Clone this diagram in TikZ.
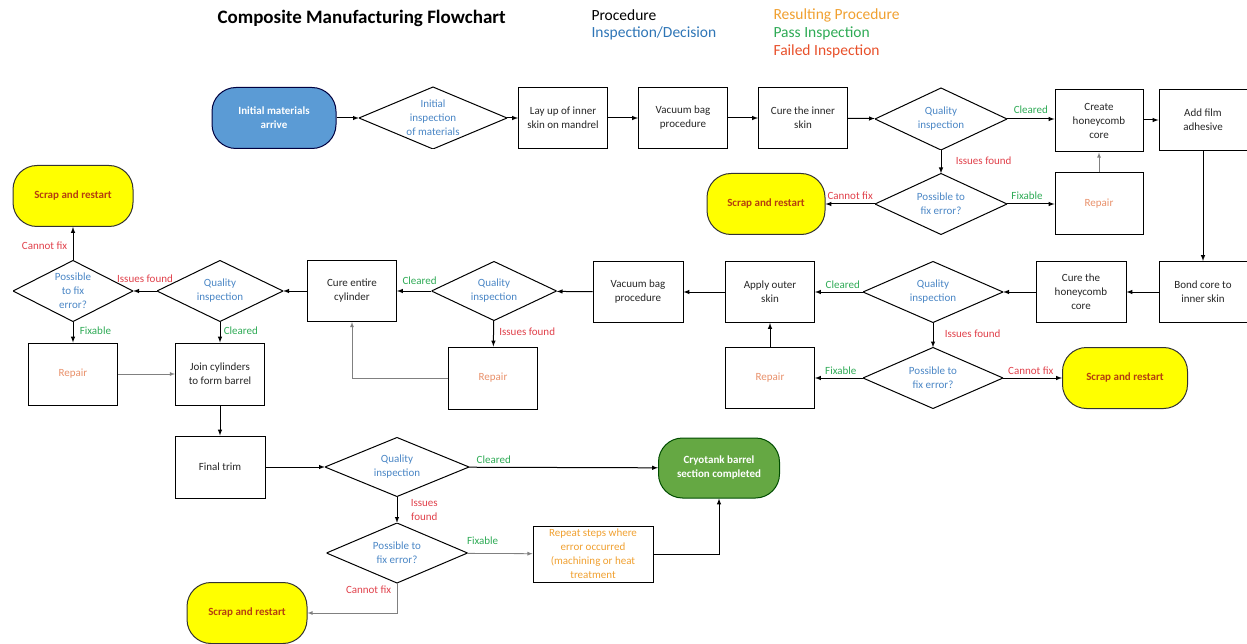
\documentclass[tikz,border=0pt]{standalone}
\usepackage{fontspec}
\setmainfont{Carlito}
\usepackage{tikz}
\usetikzlibrary{arrows}
\definecolor{inspblue}{HTML}{4A86C5}
\definecolor{legblue}{HTML}{2E75B6}
\definecolor{resorange}{HTML}{F0A030}
\definecolor{repairorange}{HTML}{E8906A}
\definecolor{passgreen}{HTML}{2EAA55}
\definecolor{failred}{HTML}{E0404A}
\definecolor{legred}{HTML}{E8502A}
\definecolor{scrapyellow}{HTML}{FFFF00}
\definecolor{scraptext}{HTML}{B5400F}
\definecolor{startblue}{HTML}{5B9BD5}
\definecolor{donegreen}{HTML}{65A843}
\newcommand{\nodefont}{\fontsize{11}{14}\selectfont}

\tikzset{
  proc/.style={rectangle, draw, line width=1pt, minimum width=89pt, minimum height=61pt,
    align=center, text=black!85, font=\nodefont, inner sep=1pt},
  repair/.style={proc, text=repairorange},
  decision/.style={rectangle, minimum width=128pt, minimum height=61pt, align=center,
    text=inspblue, font=\nodefont, inner sep=0pt,
    path picture={\draw[line width=1pt] (path picture bounding box.north)
      -- (path picture bounding box.east) -- (path picture bounding box.south)
      -- (path picture bounding box.west) -- cycle;}},
  term/.style={rectangle, rounded corners=24pt, draw=black!80, line width=1pt,
    minimum width=120pt, minimum height=61pt, align=center, font=\bfseries\nodefont},
  scrap/.style={term, fill=scrapyellow, text=scraptext},
  flow/.style={-latex, line width=1pt},
  back/.style={-latex, line width=0.8pt, gray},
  pass/.style={text=passgreen, font=\nodefont},
  fail/.style={text=failred, font=\nodefont},
  legend/.style={anchor=west, font=\fontsize{15.5}{18}\selectfont}
}

\begin{document}
\begin{tikzpicture}[x=1pt, y=-1pt]
    \useasboundingbox (0,0) rectangle (1247,644);
    % title and colour key
    \node[anchor=west, font=\bfseries\fontsize{19}{22}\selectfont] (title) at (214,18) {Composite Manufacturing Flowchart};
    \node[legend] (keyproc) at (588,15) {Procedure};
    \node[legend, text=legblue] (keyinsp) at (588,33) {Inspection/Decision};
    \node[legend, text=resorange] (keyres) at (770,15) {Resulting Procedure};
    \node[legend, text=passgreen] (keypass) at (770,33) {Pass Inspection};
    \node[legend, text=legred] (keyfail) at (770,51) {Failed Inspection};

    % inner skin and core
    \node[term, minimum width=124pt, fill=startblue, draw=black!75!blue, text=white] (init) at (274,118) {Initial materials\\arrive};
    \node[decision, minimum width=148pt, minimum height=62pt] (insp0) at (433,118) {Initial\\inspection\\of materials};
    \node[proc] (layup) at (563,118) {Lay up of inner\\skin on mandrel};
    \node[proc] (vac1) at (683,118) {Vacuum bag\\procedure};
    \node[proc] (cure1) at (803,118) {Cure the inner\\skin};
    \node[decision, minimum width=132pt, minimum height=62pt] (qi1) at (941,119) {Quality\\inspection};
    \node[proc, minimum width=88pt, minimum height=62pt] (honey) at (1099,121) {Create\\honeycomb\\core};
    \node[proc, minimum width=88pt] (film) at (1203,120) {Add film\\adhesive};
    \node[decision, minimum width=132pt] (fix1) at (941,204) {Possible to\\fix error?};
    \node[scrap, minimum width=118pt] (scrap1) at (766,204) {Scrap and restart};
    \node[repair, minimum width=88pt, minimum height=62pt] (rep1) at (1099,204) {Repair};

    % outer skin
    \node[proc, minimum width=88pt] (bond) at (1203,292) {Bond core to\\inner skin};
    \node[proc, minimum width=90pt] (cureh) at (1081,292) {Cure the\\honeycomb\\core};
    \node[decision, minimum width=140pt] (qi2) at (933,292) {Quality\\inspection};
    \node[proc] (outer) at (770,292) {Apply outer\\skin};
    \node[decision, minimum width=140pt] (fix2) at (933,378) {Possible to\\fix error?};
    \node[scrap, minimum width=125pt] (scrap2) at (1125,378) {Scrap and restart};
    \node[repair] (rep2) at (770,378) {Repair};
    \node[proc, minimum width=90pt] (vac2) at (638,292) {Vacuum bag\\procedure};
    \node[decision, minimum width=125pt, minimum height=59pt] (qi3) at (494,291) {Quality\\inspection};
    \node[proc] (curec) at (352,291) {Cure entire\\cylinder};
    \node[repair, minimum height=62pt] (rep3) at (493,378) {Repair};

    % barrel
    \node[decision, minimum width=126pt] (qi4) at (220,291) {Quality\\inspection};
    \node[decision, minimum width=120pt] (fix4) at (73,291) {Possible\\to fix\\error?};
    \node[scrap] (scrap4) at (73,196) {Scrap and restart};
    \node[repair, minimum height=62pt] (rep4) at (73,374) {Repair};
    \node[proc, minimum height=62pt] (join) at (220,374) {Join cylinders\\to form barrel};
    \node[proc, minimum width=90pt, minimum height=62pt] (trim) at (220,467) {Final trim};
    \node[decision, minimum width=144pt, minimum height=59pt] (qi5) at (397,467) {Quality\\inspection};
    \node[term, minimum width=121pt, minimum height=60pt, fill=donegreen, draw=black!70!green, text=white] (done) at (719,468) {Cryotank barrel\\section completed};
    \node[decision, minimum width=141pt, minimum height=60pt] (fix5) at (397,553) {Possible to\\fix error?};
    \node[proc, minimum width=120pt, minimum height=56pt, text=resorange, line width=0.8pt] (repeat) at (593,554) {Repeat steps where\\error occurred\\(machining or heat\\treatment};
    \node[scrap] (scrap5) at (247,613) {Scrap and restart};

    % connectors, first row
    \draw[flow] (init) -- (insp0);
    \draw[flow] (insp0) -- (layup);
    \draw[flow] (layup) -- (vac1);
    \draw[flow] (vac1) -- (cure1);
    \draw[flow] (cure1) -- (qi1);
    \draw[flow] (qi1) -- node[pass, above=2pt, pos=0.5] (clr1) {Cleared} (qi1 -| honey.west);
    \draw[flow] (honey.east |- film) -- (film);
    \draw[flow] (film) -- (bond);
    \draw[flow] (qi1) -- node[fail, right=11pt, pos=0.45] (iss1) {Issues found} (fix1);
    \draw[flow] (fix1) -- node[fail, above=1pt, pos=0.5] (nofix1) {Cannot fix} (scrap1);
    \draw[flow] (fix1) -- node[pass, above=1pt, pos=0.42] (fixa1) {Fixable} (rep1);
    \draw[back] (rep1) -- (honey);

    % connectors, second row
    \draw[flow] (bond) -- (cureh);
    \draw[flow] (cureh) -- (qi2);
    \draw[flow] (qi2) -- node[pass, above=0pt, pos=0.42] (clr2) {Cleared} (outer);
    \draw[flow] (qi2) -- node[fail, right=8pt, pos=0.45] (iss2) {Issues found} (fix2);
    \draw[flow] (fix2) -- node[pass, above=0pt, pos=0.46] (fixa2) {Fixable} (rep2);
    \draw[flow] (fix2) -- node[fail, above=0pt, pos=0.47] (nofix2) {Cannot fix} (scrap2);
    \draw[flow] (rep2) -- (outer);
    \draw[flow] (outer) -- (vac2);
    \draw[flow] (vac2) -- (qi3);
    \draw[flow] (qi3) -- node[pass, above=3pt, pos=0.34] (clr3) {Cleared} (curec);
    \draw[flow] (qi3) -- node[fail, right=2pt, pos=0.42] (iss3) {Issues found} (rep3);
    \draw[back] (rep3.west) -| (curec.south);
    \draw[flow] (curec) -- (qi4);
    \draw[flow] (qi4) -- node[fail, above=5pt, pos=0.5] (iss4) {Issues found} (fix4);
    \draw[flow] (fix4) -- node[fail, left=2pt, pos=0.44] (nofix4) {Cannot fix} (scrap4);
    \draw[flow] (fix4) -- node[pass, right=3pt, pos=0.43] (fixa4) {Fixable} (rep4);
    \draw[flow] (qi4) -- node[pass, right=0pt, pos=0.43] (clr4) {Cleared} (join);
    \draw[back] (rep4) -- (join);

    % connectors, last part
    \draw[flow] (join) -- (trim);
    \draw[flow] (trim) -- (qi5);
    \draw[flow] (qi5) -- node[pass, above=0pt, pos=0.13] (clr5) {Cleared} (done);
    \draw[flow] (qi5) -- node[fail, right=10pt, align=center] (iss5) {Issues\\found} (fix5);
    \draw[back] (fix5) -- node[pass, above=5pt, pos=0.23] (fixa5) {Fixable} (repeat);
    \draw[flow] (repeat.east) -| (done.south);
    \draw[back] (fix5.south) -- node[fail, left=2pt, pos=0.23] (nofix5) {Cannot fix} (fix5.south |- scrap5.east) -- (scrap5.east);
\end{tikzpicture}
\end{document}
